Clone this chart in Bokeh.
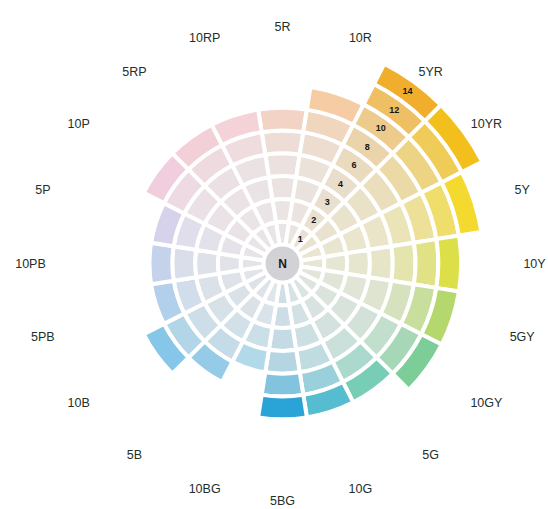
import math
from bokeh.plotting import figure
from bokeh.models import ColumnDataSource, Range1d
from bokeh.embed import file_html
from bokeh.resources import INLINE
from bokeh.core.properties import value

# ---- data ----
hues = ["5R", "10R", "5YR", "10YR", "5Y", "10Y", "5GY", "10GY", "5G", "10G",
        "5BG", "10BG", "5B", "10B", "5PB", "10PB", "5P", "10P", "5RP", "10RP"]
max_chroma = [8, 10, 14, 14, 12, 10, 10, 10, 8, 8,
              8, 4, 6, 8, 6, 6, 6, 8, 8, 8]
chroma_steps = [1, 2, 3, 4, 6, 8, 10, 12, 14]
outer_colors = ["#f3d3c6", "#f6cca4", "#f0ae2c", "#f2bf1c", "#f4da2e", "#dcdf48",
                "#b4d86e", "#7ccd98", "#78cdb6", "#56bccf", "#2aa4d6", "#b2d9ea",
                "#96cbe8", "#86c6e8", "#b2d0ec", "#c4d2ec", "#d6d2ec", "#f1cede",
                "#f3cfd8", "#f3d3d8"]
center_label = "N"

# ---- styling / geometry ----
NEUTRAL = (232, 231, 232)
R0, W = 19.0, 22.8
CX, CY = 282, 263
FW, FH = 548, 509


def hex2rgb(h):
    h = h.lstrip("#")
    return tuple(int(h[i:i + 2], 16) for i in (0, 2, 4))


def mix(c, t):
    a = NEUTRAL
    b = hex2rgb(c)
    return "#%02x%02x%02x" % tuple(int(round(a[k] + (b[k] - a[k]) * t)) for k in range(3))


xs, ys, rin, rout, sa, ea, cols = [], [], [], [], [], [], []
for k, h in enumerate(hues):
    ang = math.radians(90 - 18 * k)
    cmax = max_chroma[k]
    n = chroma_steps.index(cmax) + 1
    for i in range(n):
        c = chroma_steps[i]
        t = (c / cmax) ** 2.6
        xs.append(0); ys.append(0)
        rin.append(R0 + W * i)
        rout.append(R0 + W * (i + 1))
        sa.append(ang - math.radians(9))
        ea.append(ang + math.radians(9))
        cols.append(mix(outer_colors[k], 0.12 + 0.88 * t))

src = ColumnDataSource(dict(x=xs, y=ys, ri=rin, ro=rout, sa=sa, ea=ea, c=cols))

p = figure(width=FW, height=FH, output_backend="svg", toolbar_location=None,
           x_range=Range1d(-CX, FW - CX), y_range=Range1d(CY - FH, CY),
           min_border=0)
p.axis.visible = False
p.grid.visible = False
p.outline_line_color = None
p.background_fill_color = "white"
p.border_fill_color = "white"

p.annular_wedge(x="x", y="y", inner_radius="ri", outer_radius="ro",
                start_angle="sa", end_angle="ea", fill_color="c",
                line_color="white", line_width=4, source=src)

p.circle(x=[0], y=[0], radius=17, fill_color="#d2d2d6", line_color=None)
p.text(x=[0], y=[0], text=[center_label], text_align="center", text_baseline="middle",
       text_font=value("Liberation Sans"), text_font_style="bold",
       text_font_size="12px", text_color="#1a1a1a")

# chroma labels along the 5YR direction
a5 = math.radians(90 - 18 * hues.index("5YR"))
lx = [(R0 + W * (i + 0.5)) * math.cos(a5) for i in range(len(chroma_steps))]
ly = [(R0 + W * (i + 0.5)) * math.sin(a5) for i in range(len(chroma_steps))]
p.text(x=lx, y=ly, text=[str(c) for c in chroma_steps], text_align="center",
       text_baseline="middle", text_font=value("Liberation Sans"),
       text_font_style="bold", text_font_size="9px", text_color="#151515")

# hue labels
def rad(k):
    return math.radians(90 - 18 * k)

hx = [252 * math.cos(rad(k)) for k in range(len(hues))]
hy = [237 * math.sin(rad(k)) for k in range(len(hues))]
p.text(x=hx, y=hy, text=hues, text_align="center", text_baseline="middle",
       text_font=value("Liberation Sans"), text_font_size="12.5px",
       text_color="#22302a")

open("out.html", "w").write(file_html(p, INLINE))
